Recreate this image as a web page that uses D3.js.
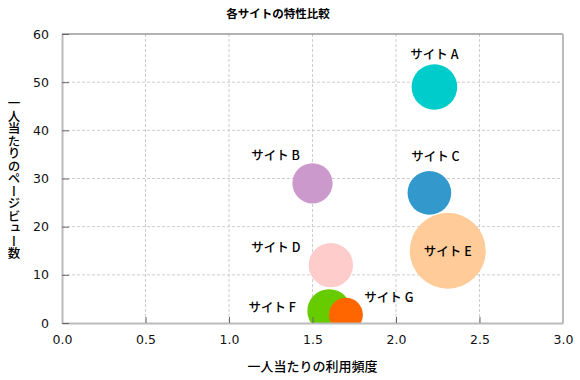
<!DOCTYPE html>
<html>
<head>
<meta charset="utf-8">
<script src="https://cdn.jsdelivr.net/npm/d3@7"></script>
<style>
  body { margin: 0; background: #fff; }
  text { font-family: "Noto Sans CJK JP", sans-serif; }
</style>
</head>
<body>
<svg></svg>
<script>
// Data
const sites = ["サイト A", "サイト B", "サイト C", "サイト D", "サイト E", "サイト F", "サイト G"];
const frequency = [2.23, 1.5, 2.2, 1.61, 2.31, 1.6, 1.7];
const pageViews = [49, 29, 27, 12, 15, 2.5, 1.7];
const sizes = [36, 28, 33, 34, 100, 33, 20];
const colors = ["#00cccc", "#cc99cc", "#3399cc", "#ffcccc", "#ffcc99", "#66cc00", "#ff6600"];
const xTicks = [0, 0.5, 1, 1.5, 2, 2.5, 3];
const yTicks = [0, 10, 20, 30, 40, 50, 60];

// label offsets from bubble centre (layout only)
const labelOffset = [[0, -28], [-37, -23], [6, -32], [-55, -13], [0, 5], [-57, 1], [43, -13]];

const width = 580, height = 380;
const margin = { top: 34, right: 17, bottom: 57, left: 62 };
const chartWidth = width - margin.left - margin.right;
const chartHeight = height - margin.top - margin.bottom;

const svg = d3.select("svg").attr("width", width).attr("height", height);

const chart = svg.append("g")
  .attr("transform", `translate(${margin.left}, ${margin.top})`);

const xScale = d3.scaleLinear().domain([0, 3]).range([0, chartWidth]);
const yScale = d3.scaleLinear().domain([0, 60]).range([chartHeight, 0]);
const rScale = d3.scaleSqrt().domain([0, 100]).range([0, 38]);

// grid
chart.append("g")
  .selectAll("line")
  .data(xTicks.slice(1, -1))
  .join("line")
  .attr("x1", d => xScale(d)).attr("x2", d => xScale(d))
  .attr("y1", 0).attr("y2", chartHeight)
  .attr("stroke", "#ccc").attr("stroke-dasharray", "3,2");

chart.append("g")
  .selectAll("line")
  .data(yTicks.slice(1, -1))
  .join("line")
  .attr("x1", 0).attr("x2", chartWidth)
  .attr("y1", d => yScale(d)).attr("y2", d => yScale(d))
  .attr("stroke", "#ccc").attr("stroke-dasharray", "3,2");

// bubbles
chart.append("clipPath").attr("id", "clip")
  .append("rect").attr("width", chartWidth).attr("height", chartHeight);

const idx = d3.range(sites.length);

chart.append("g")
  .attr("clip-path", "url(#clip)")
  .selectAll("circle")
  .data(idx)
  .join("circle")
  .attr("cx", i => xScale(frequency[i]))
  .attr("cy", i => yScale(pageViews[i]))
  .attr("r", i => rScale(sizes[i]))
  .attr("fill", i => colors[i]);

// axes
const xAxis = chart.append("g")
  .attr("transform", `translate(0, ${chartHeight})`)
  .call(d3.axisBottom(xScale).tickValues(xTicks).tickFormat(d3.format(".1f")).tickSizeInner(-6).tickSizeOuter(0).tickPadding(12));
const yAxis = chart.append("g")
  .call(d3.axisLeft(yScale).tickValues(yTicks).tickSizeInner(-7).tickSizeOuter(0).tickPadding(13));

[xAxis, yAxis].forEach(ax => {
  ax.select(".domain").attr("stroke", "#bbb").attr("stroke-width", 2);
  ax.selectAll(".tick line").attr("stroke", "#666");
  ax.selectAll(".tick text")
    .attr("fill", "#111")
    .style("font-family", "'DejaVu Sans', sans-serif")
    .style("font-size", "12.5px");
});

// frame top / right
chart.append("line")
  .attr("x1", 0).attr("x2", chartWidth).attr("y1", 0).attr("y2", 0)
  .attr("stroke", "#666").attr("stroke-width", 1.2);
chart.append("line")
  .attr("x1", chartWidth).attr("x2", chartWidth).attr("y1", 0).attr("y2", chartHeight)
  .attr("stroke", "#bbb").attr("stroke-width", 2);

// bubble labels
chart.append("g")
  .selectAll("text")
  .data(idx)
  .join("text")
  .attr("x", i => xScale(frequency[i]) + labelOffset[i][0])
  .attr("y", i => yScale(pageViews[i]) + labelOffset[i][1])
  .attr("text-anchor", "middle")
  .style("font-size", "12.5px").style("font-weight", "500")
  .attr("fill", "#000")
  .text(i => sites[i]);

// titles
svg.append("text")
  .attr("x", 278).attr("y", 18)
  .attr("text-anchor", "middle")
  .style("font-size", "11.5px").style("font-weight", "bold")
  .text("各サイトの特性比較");

svg.append("text")
  .attr("x", margin.left + chartWidth / 2).attr("y", 371)
  .attr("text-anchor", "middle")
  .style("font-size", "13px").style("font-weight", "500")
  .attr("fill", "#000")
  .text("一人当たりの利用頻度");

svg.append("text")
  .attr("x", 14).attr("y", margin.top + chartHeight / 2)
  .attr("text-anchor", "middle")
  .style("writing-mode", "vertical-rl")
  .style("font-size", "12.5px").style("font-weight", "500")
  .attr("fill", "#000")
  .text("一人当たりのページビュー数");
</script>
</body>
</html>
